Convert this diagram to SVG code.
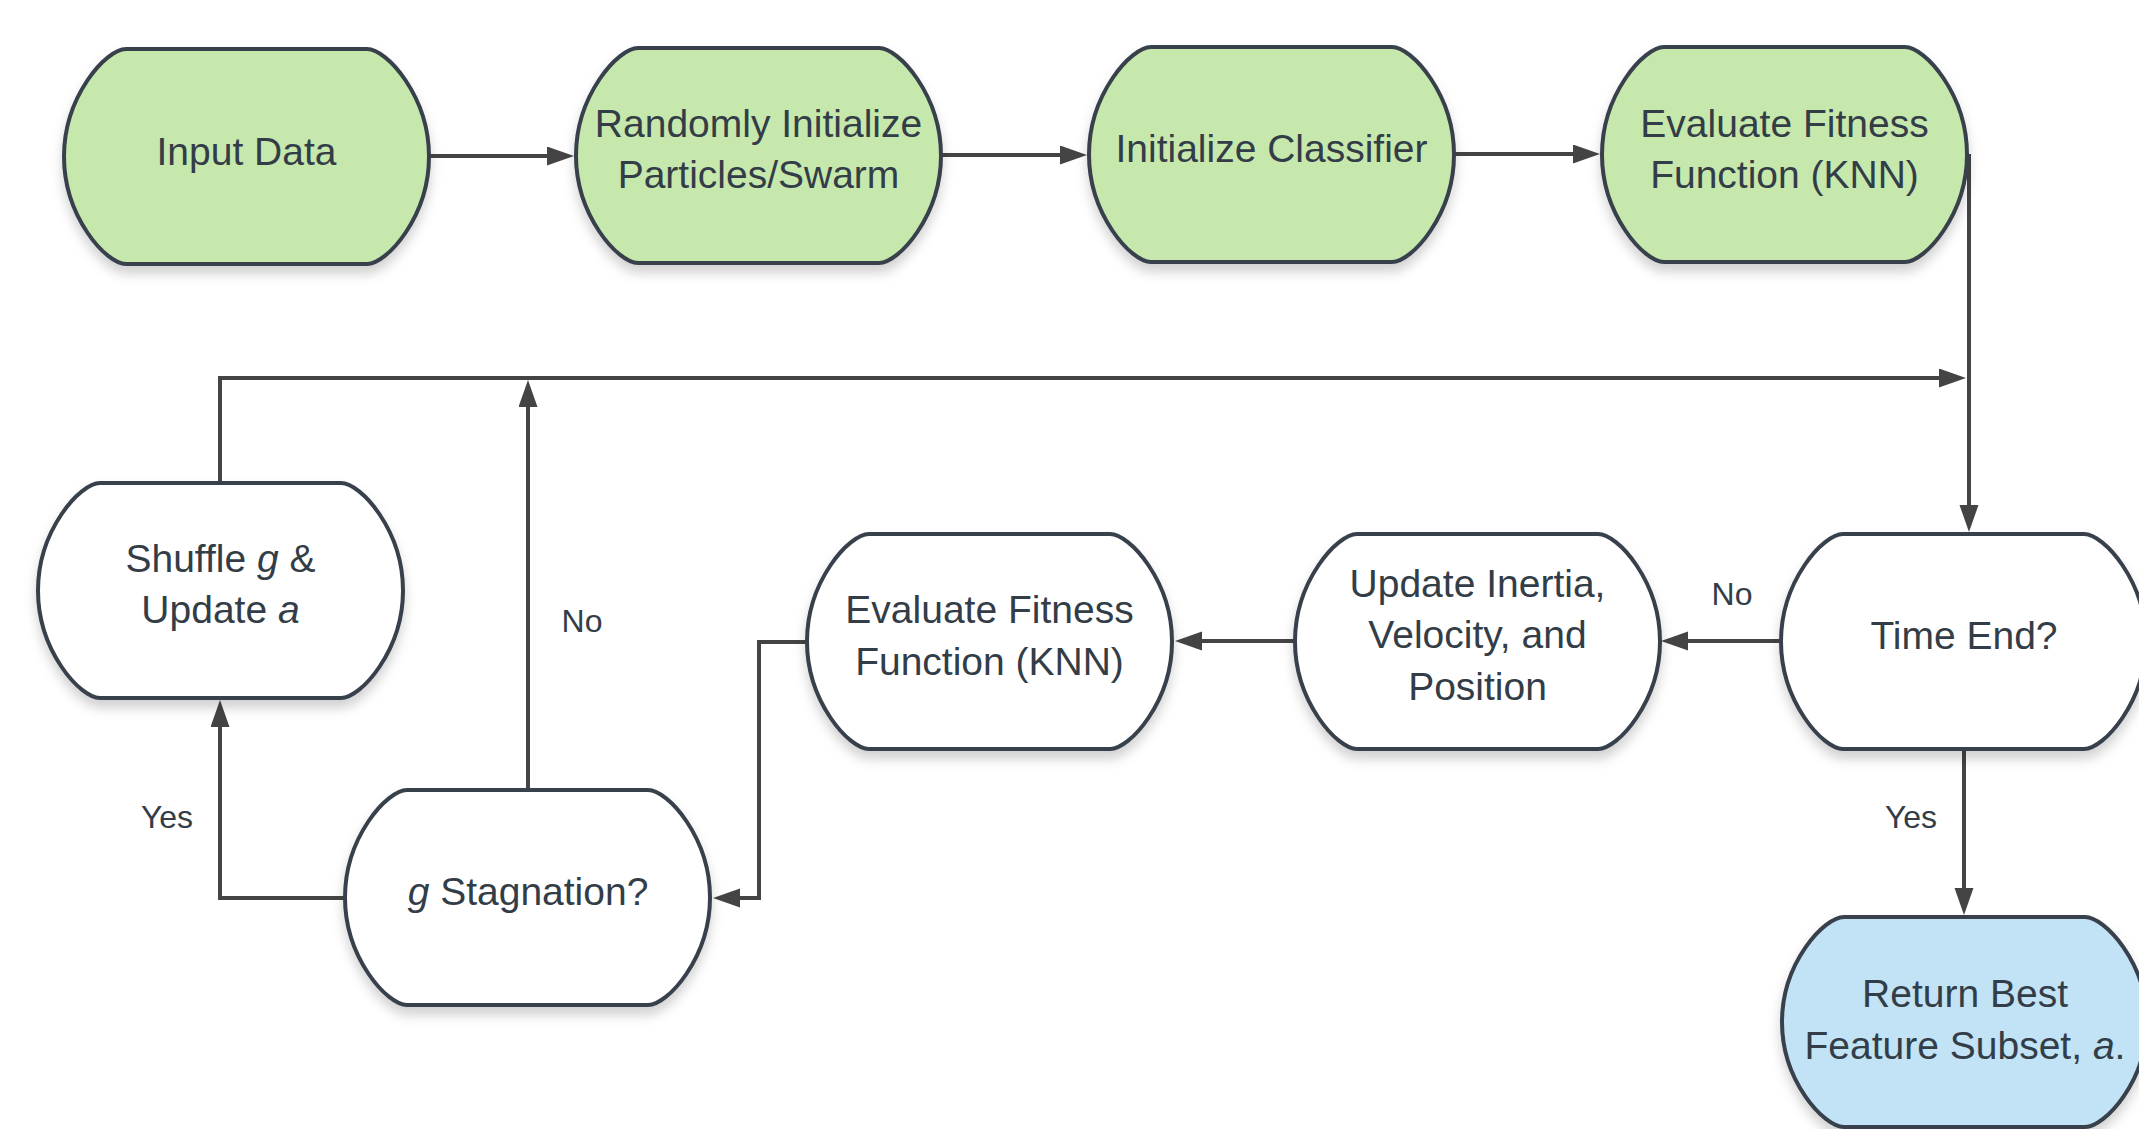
<svg xmlns="http://www.w3.org/2000/svg" xmlns:xlink="http://www.w3.org/1999/xlink" width="2139" height="1129" viewBox="0 0 2139 1129">
  <style>
    .node { stroke: #37414c; stroke-width: 4; stroke-linejoin: round; filter: url(#shadow); }
    .green { fill: #c7e8ac; }
    .white { fill: #ffffff; }
    .blue { fill: #c1e3f5; }
    .label { font-family: "Liberation Sans", Arial, sans-serif; font-size: 39px; fill: #333d47; text-anchor: middle; }
    .edge-label { font-family: "Liberation Sans", Arial, sans-serif; font-size: 32px; fill: #333d47; text-anchor: middle; }
    .edge { fill: none; stroke: #444444; stroke-width: 4; marker-end: url(#arrow); }
    .it { font-style: italic; }
  </style>
  <defs>
    <filter id="shadow" x="-10%" y="-10%" width="120%" height="130%">
      <feDropShadow dx="0" dy="8" stdDeviation="6" flood-color="#000000" flood-opacity="0.18"/>
    </filter>
    <marker id="arrow" markerUnits="userSpaceOnUse" viewBox="0 0 28 20" markerWidth="28" markerHeight="20" refX="17" refY="9.5" orient="auto">
      <path d="M0,0 L27,9.5 L0,19 Z" fill="#444444"/>
    </marker>
    <!-- process block: flat top/bottom, bulging sides (365 x 215) -->
    <path id="block" d="M62,0 H303 C323,0 365,47.5 365,107.5 C365,167.5 323,215 303,215 H62 C42,215 0,167.5 0,107.5 C0,47.5 42,0 62,0 Z"/>
    <!-- shorter variant (365 x 210) -->
    <path id="block-short" d="M62,0 H303 C323,0 365,46 365,105 C365,164 323,210 303,210 H62 C42,210 0,164 0,105 C0,46 42,0 62,0 Z"/>
  </defs>

  <rect x="0" y="0" width="2139" height="1129" fill="#ffffff"/>

  <!-- connectors -->
  <g id="connectors">
    <path class="edge" d="M429,156 H564"/>
    <path class="edge" d="M941,155 H1077"/>
    <path class="edge" d="M1454,154 H1590"/>
    <path class="edge" d="M1969,154 V522"/>
    <path class="edge" d="M220,483 V378 H1956"/>
    <path class="edge" d="M528,790 V390"/>
    <path class="edge" d="M1781,641 H1671"/>
    <path class="edge" d="M1295,641 H1185"/>
    <path class="edge" d="M807,642 H759 V898 H723"/>
    <path class="edge" d="M345,898 H220 V710"/>
    <path class="edge" d="M1964,749 V905"/>
    <text class="edge-label" x="582" y="632">No</text>
    <text class="edge-label" x="1732" y="605">No</text>
    <text class="edge-label" x="167" y="828">Yes</text>
    <text class="edge-label" x="1911" y="828">Yes</text>
  </g>

  <!-- top row -->
  <g id="input-data">
    <use xlink:href="#block" href="#block" class="node green" x="64" y="49"/>
    <text class="label" x="246.5" y="165">Input Data</text>
  </g>
  <g id="init-swarm">
    <use xlink:href="#block" href="#block" class="node green" x="576" y="48"/>
    <text class="label" x="758.5" y="137">Randomly Initialize</text>
    <text class="label" x="758.5" y="188">Particles/Swarm</text>
  </g>
  <g id="init-classifier">
    <use xlink:href="#block" href="#block" class="node green" x="1089" y="47"/>
    <text class="label" x="1271.5" y="162">Initialize Classifier</text>
  </g>
  <g id="eval-fitness-1">
    <use xlink:href="#block" href="#block" class="node green" x="1602" y="47"/>
    <text class="label" x="1784.5" y="137">Evaluate Fitness</text>
    <text class="label" x="1784.5" y="188">Function (KNN)</text>
  </g>

  <!-- loop -->
  <g id="time-end">
    <use xlink:href="#block" href="#block" class="node white" x="1781" y="534"/>
    <text class="label" x="1964" y="649">Time End?</text>
  </g>
  <g id="update-pso">
    <use xlink:href="#block" href="#block" class="node white" x="1295" y="534"/>
    <text class="label" x="1477.5" y="597">Update Inertia,</text>
    <text class="label" x="1477.5" y="648">Velocity, and</text>
    <text class="label" x="1477.5" y="700">Position</text>
  </g>
  <g id="eval-fitness-2">
    <use xlink:href="#block" href="#block" class="node white" x="807" y="534"/>
    <text class="label" x="989.5" y="623">Evaluate Fitness</text>
    <text class="label" x="989.5" y="675">Function (KNN)</text>
  </g>
  <g id="shuffle">
    <use xlink:href="#block" href="#block" class="node white" x="38" y="483"/>
    <text class="label" x="220.5" y="572">Shuffle <tspan class="it">g</tspan> &amp;</text>
    <text class="label" x="220.5" y="623">Update <tspan class="it">a</tspan></text>
  </g>
  <g id="stagnation">
    <use xlink:href="#block" href="#block" class="node white" x="345" y="790"/>
    <text class="label" x="528" y="905"><tspan class="it">g</tspan> Stagnation?</text>
  </g>
  <g id="return-best">
    <use xlink:href="#block-short" href="#block-short" class="node blue" x="1782" y="917"/>
    <text class="label" x="1965" y="1007">Return Best</text>
    <text class="label" x="1965" y="1059">Feature Subset, <tspan class="it">a</tspan>.</text>
  </g>
</svg>
